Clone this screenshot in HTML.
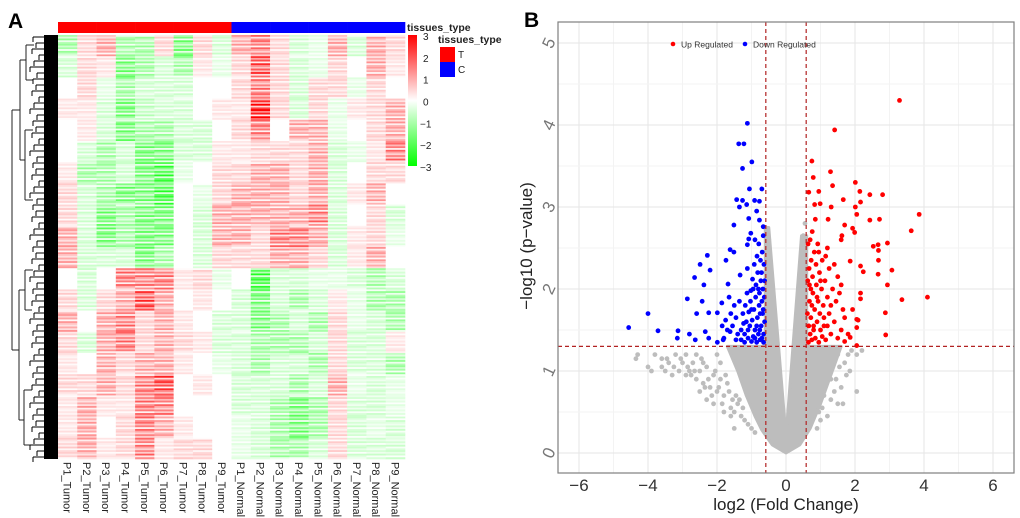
<!DOCTYPE html>
<html><head><meta charset="utf-8">
<style>
html,body{margin:0;padding:0;background:#fff;}
svg{display:block;font-family:"Liberation Sans",Arial,sans-serif;}
</style></head>
<body>
<svg id="fig" width="1020" height="518" viewBox="0 0 1020 518">
  <text x="8" y="28" font-size="21" font-weight="bold">A</text>
  <text x="524" y="27" font-size="21" font-weight="bold">B</text>
  <g id="heat"></g>
  <g id="dendro"></g>
  <g id="volc"></g>
</svg>
<script>
// ---------- Heatmap data ----------
const sampleLabels = ["P1_Tumor","P2_Tumor","P3_Tumor","P4_Tumor","P5_Tumor","P6_Tumor","P7_Tumor","P8_Tumor","P9_Tumor",
  "P1_Normal","P2_Normal","P3_Normal","P4_Normal","P5_Normal","P6_Normal","P7_Normal","P8_Normal","P9_Normal"];
const sampleGroups = ["T","T","T","T","T","T","T","T","T","C","C","C","C","C","C","C","C","C"];
const legendTicks = [3,2,1,0,-1,-2,-3];
const bandValues = [
 [-1,0.5,1,-1,-1,0.5,-1.5,0.5,-0.5, 1,1.5,0.5,-0.5,-0.3,1,-0.5,1,0.5],
 [-0.5,0.5,0.3,-1.5,-1,-0.5,-1,0.3,-0.3, 0.5,2,0.5,-0.5,-0.3,0.5,0,1,0.3],
 [0,0.5,-0.3,-1,-0.5,-0.5,-0.5,0,0, 0.5,1.5,0.5,-0.5,0.5,0.5,-0.3,0.5,0],
 [0.3,0.3,-0.5,-1.5,-0.7,-0.5,-0.5,0,0.3, 0.3,2.5,0.5,-0.5,0.5,-0.3,0.3,0.5,1],
 [0,0.3,-0.5,-1.5,-1,-1,-0.5,-0.5,0, 0.5,1.5,0,1,1,-0.3,0,0.5,1],
 [0,-0.5,-1,-0.5,-1.5,-1.5,-0.5,-0.5,0.3, 0.3,0.5,0.5,0.5,1,-0.5,-0.3,0.3,1.5],
 [0.3,-1,-1,-0.5,-1.5,-2,-0.3,0,0.5, 0.5,1,1,0.5,1,-0.5,0,0.5,0.5],
 [0.5,-0.5,-1,-1.5,-1.5,-2,0,-0.3,0.5, 1,1,1,0.5,1,-0.5,0.3,1,0],
 [0.5,-0.5,-1.5,-1,-1.5,-1.5,0,-0.5,1, 1,1,1,1,1.5,-0.5,0,0.5,-0.5],
 [1,-0.5,-1.5,-1,-1.5,-1.5,0,-0.5,1, 1,0.5,1.5,1.5,1,-0.5,0.3,0.5,-0.3],
 [1,-0.5,-0.5,-0.5,-1.5,-1,0,-0.5,0.5, 0.5,0.5,1,1,0.5,-0.5,0.3,1,0],
 [0,-0.5,0,1.5,1.5,1.5,0.3,0.5,-0.3, 0,-2,-0.5,-0.5,-0.3,-0.3,-0.5,-1,-0.5],
 [0.5,-0.5,0.5,1,2,1,0,0.3,0, -0.5,-1.5,-0.5,-1,-0.5,0.3,-0.3,-1,-1],
 [1,0,1,1.5,0.5,1,0.3,0,-0.5, -0.5,-1.5,-1,-0.5,-1,0.5,-0.3,-0.5,-1],
 [0.5,-0.5,1,1.5,0.5,1,0.5,0.3,-0.5, -0.5,-1,-1,-1,-0.5,0.5,-0.5,-0.5,0.3],
 [0.3,0,1,0.5,1,1,0.3,0,-0.3, -0.5,-1,-0.5,-0.5,-1,0.5,-0.5,-0.5,-1],
 [0.5,0.5,1,0.5,1.5,2,0,0.3,0, -0.5,-0.5,-0.5,-1,-0.5,1,-0.3,-0.5,-0.3],
 [0.3,1,0.3,0.3,1.5,1.5,0,0,0, -0.5,-0.5,-1,-1.5,-1,0.5,-0.5,-0.5,-0.3],
 [0.3,1,0,0.5,1.5,1,0.3,0,0, -0.3,-0.5,-1,-1.5,-1,0.5,-0.5,-0.3,-0.5],
 [0.5,1,0.3,0.5,1.5,0.3,0.5,0.5,0, -0.3,-0.5,-1,-1,-0.5,0.5,-0.5,-0.5,-0.5]
];

// ---------- Volcano data (log2FC, -log10 p) ----------
const upX = [3.29,1.41,0.75,1.29,0.79,2.01,1.35,0.66,0.95,2.14,2.43,2.80,1.66,2.16,0.83,0.99,1.31,2.01,3.86,2.05,2.43,2.71,1.22,1.70,1.93,3.63,1.99,1.62,2.94,2.53,2.67,2.68,2.68,2.16,3.07,2.24,2.67,1.86,2.94,2.16,2.16,4.10,3.36,2.88,2.89,2.05,2.09,2.05,1.93,1.86,2.05,
 0.65,0.7,0.75,0.8,0.85,0.9,0.95,1.0,1.05,1.1,1.15,1.2,1.3,1.4,1.5,1.6,1.7,1.8,0.62,0.68,0.72,0.78,0.83,0.88,0.93,0.98,1.03,1.08,1.13,1.2,1.25,1.35,1.45,1.55,1.65,0.63,0.67,0.73,0.77,0.82,0.87,0.92,0.97,1.05,1.15,1.25,1.4,1.5,1.6,0.64,0.7,0.76,0.85,0.68,0.75,0.8,0.9,1.0,1.1,1.3,1.6,1.7,1.2,0.95,0.66,0.72];
const upY = [4.30,3.94,3.56,3.43,3.36,3.30,3.26,3.18,3.19,3.19,3.15,3.15,3.09,3.06,3.03,3.04,3.00,3.00,2.91,2.91,2.84,2.85,2.85,2.78,2.74,2.71,2.69,2.65,2.56,2.52,2.54,2.47,2.35,2.28,2.23,2.21,2.18,2.34,2.05,1.95,1.88,1.90,1.87,1.71,1.44,1.63,1.62,1.53,1.75,1.41,1.31,
 1.35,1.45,1.38,1.55,1.4,1.6,1.35,1.5,1.42,1.65,1.38,1.55,1.45,1.6,1.4,1.5,1.36,1.45,1.7,1.85,1.65,1.95,1.75,2.05,1.85,1.7,2.0,1.8,2.1,1.9,1.7,2.0,1.85,1.95,1.75,2.1,2.25,2.35,2.15,2.45,2.3,2.55,2.2,2.35,2.4,2.25,2.3,2.15,2.6,2.55,2.6,2.7,2.85,2.05,1.8,1.5,1.9,2.1,1.55,1.8,2.05,1.65,2.5,2.45,1.55,2.0];
const downX = [-1.12,-1.37,-1.22,-0.99,-1.26,-1.06,-0.70,-1.43,-1.26,-1.14,-1.35,-0.91,-0.77,-0.85,-1.08,-1.51,-0.77,-0.66,-1.02,-1.08,-1.12,-1.62,-1.51,-2.28,-2.49,-2.20,-1.74,-2.65,-2.38,-1.68,-1.33,-2.86,-2.43,-1.86,-4.00,-4.56,-3.71,-3.13,-3.15,-2.80,-2.63,-2.24,-2.59,-2.34,-2.24,-1.99,-1.99,-1.62,-1.82,
 -0.65,-0.7,-0.75,-0.8,-0.85,-0.9,-0.95,-1.0,-1.05,-1.1,-1.15,-1.2,-1.25,-1.3,-0.62,-0.68,-0.72,-0.78,-0.83,-0.88,-0.93,-0.98,-1.03,-1.08,-1.13,-1.18,-1.23,-0.63,-0.67,-0.73,-0.77,-0.82,-0.87,-0.92,-0.97,-1.02,-1.12,-0.64,-0.69,-0.74,-0.79,-0.84,-0.9,-0.66,-0.71,-0.76,-1.4,-1.45,-1.5,-1.55,-1.6,-1.65,-1.45,-1.35,-1.7,-1.75,-1.8,-1.85,-0.95,-0.85,-0.75,-0.65,-1.0,-1.1,-0.7,-0.8,-0.9,-1.2,-1.3,-0.62,-0.66];
const downY = [4.02,3.77,3.77,3.55,3.47,3.22,3.22,3.09,3.08,3.03,3.00,3.08,3.07,2.95,2.86,2.78,2.84,2.76,2.68,2.61,2.54,2.48,2.45,2.41,2.30,2.23,2.35,2.14,2.05,2.06,2.17,1.88,1.85,1.83,1.70,1.53,1.49,1.49,1.40,1.45,1.38,1.40,1.70,1.48,1.71,1.71,1.35,1.48,1.38,
 1.35,1.4,1.38,1.45,1.35,1.5,1.42,1.36,1.55,1.4,1.6,1.45,1.7,1.5,1.6,1.7,1.55,1.8,1.65,1.9,1.75,1.62,1.85,1.72,1.95,1.8,1.58,1.9,2.0,2.1,1.95,2.2,2.05,2.3,2.12,1.98,2.25,2.3,2.45,2.35,2.55,2.4,2.6,2.65,2.2,1.5,1.45,1.65,1.8,1.55,1.7,1.9,1.38,1.85,1.5,1.62,1.4,1.55,2.0,1.55,1.7,1.45,1.75,1.5,1.85,2.0,1.4,1.35,1.38,2.1,1.75];
const nsX = [-4.3,-4.35,-4.0,-3.9,-3.6,-3.5,-3.4,-3.3,-3.1,-3.0,-2.9,-2.8,-2.7,-2.6,-2.5,-2.4,-2.3,-2.2,-2.1,-2.0,-1.9,-1.8,-1.7,-1.6,-1.5,-1.4,-1.3,-2.5,-2.3,-1.8,-1.6,-1.2,-3.8,-3.2,-2.6,-2.0,-1.5,-2.1,-2.9,-3.6,
 -3.45,-3.25,-3.05,-2.85,-2.65,-2.45,-2.25,-2.05,-1.95,-1.75,-1.65,-1.45,-1.35,-2.75,-2.35,-2.15,-1.85,-1.55,-1.25,-1.1,-1.0,-0.9,-1.9,-2.4,
 1.0,1.2,1.3,1.4,1.5,1.6,1.7,1.8,1.9,2.05,2.05,1.65,1.2,1.0,1.5,1.1,0.9,1.4,0.55,0.5,-0.6,-0.5,1.25,1.35,1.45,1.55,1.75,1.15,1.05,1.85,2.2,0.95,1.3];
const nsY = [1.2,1.15,1.05,1.0,1.05,1.0,1.1,0.95,1.0,1.1,0.95,1.0,1.1,0.9,1.0,0.85,1.05,0.8,0.95,0.75,0.9,0.7,0.85,0.55,0.5,0.6,0.45,0.75,0.65,0.5,0.45,0.4,1.2,1.2,1.2,1.2,0.3,0.6,1.2,1.15,
 1.15,1.05,1.15,1.05,1.0,1.15,0.9,1.0,0.8,0.95,0.75,0.7,0.65,0.95,0.8,0.7,0.6,0.65,0.55,0.35,0.3,0.25,1.1,1.1,
 1.25,1.1,0.9,0.75,0.6,0.8,1.1,1.2,1.25,1.2,0.75,0.6,0.45,0.4,1.2,0.7,0.3,1.15,2.8,2.65,2.75,2.6,1.0,1.2,0.9,1.05,0.95,0.85,0.55,1.0,1.25,0.5,0.65];
// envelope of the dense non-significant cloud
const cloudOuterX = [-1.7,-1.4,-1.15,-0.9,-0.7,-0.4,0,0.4,0.7,1.0,1.3,1.6,0.6,0.6,0.45,0.0,-0.5,-0.6,-0.6];
const cloudOuterY = [1.3,1.0,0.7,0.45,0.28,0.1,0.0,0.1,0.3,0.6,0.95,1.3,1.3,2.65,2.65,0.2,2.75,2.75,1.3];
const xTicks = [-6,-4,-2,0,2,4,6];
const yTicks = [0,1,2,3,4,5];
const fcCut = 0.585, pCut = 1.3;

const NS = "http://www.w3.org/2000/svg";
function mk(tag, attrs, parent){const e=document.createElementNS(NS,tag);for(const k in attrs)e.setAttribute(k,attrs[k]);parent.appendChild(e);return e;}

// ---------- Heatmap ----------
const heat = document.getElementById('heat');
const hx0=58, hx1=405, hy0=35, hy1=459;
const colW=(hx1-hx0)/sampleLabels.length;
const bandH=(hy1-hy0)/bandValues.length;
const stripe=[1,0.4,1.3,0.2,0.9,1.2,0.55,1.05,0.1,1.25,0.7,0.35];
function colorFor(v){const t=Math.max(-1,Math.min(1,v/3));const w=Math.round(255*(1-Math.abs(t)));return t>=0?`rgb(255,${w},${w})`:`rgb(${w},255,${w})`;}
const subH=bandH/stripe.length;
bandValues.forEach((row,bi)=>{
  row.forEach((v,ci)=>{
    stripe.forEach((f0,si)=>{
      const f=stripe[(si+ci*5+bi*3)%stripe.length];
      const r=mk('rect',{x:hx0+ci*colW,y:hy0+bi*bandH+si*subH,width:colW+0.3,height:subH+0.3,fill:colorFor(v*f)},heat);
      
      
    });
  });
});
sampleGroups.forEach((g,ci)=>{
  const r=mk('rect',{x:hx0+ci*colW,y:22,width:colW+0.3,height:11,fill:g==="T"?"#ff0000":"#0000ff"},heat);
  
  
});
sampleLabels.forEach((s,ci)=>{
  const cx=hx0+ci*colW+colW/2-4;
  const t=mk('text',{x:0,y:0,'font-size':11,fill:'#222',transform:`translate(${cx},462) rotate(90)`},heat);
  t.textContent=s;
  
  
});
const grad=mk('defs',{},heat);
const lg=mk('linearGradient',{id:'gk',x1:0,y1:0,x2:0,y2:1},grad);
[[0,'#ff0000'],[0.5,'#ffffff'],[1,'#00ff00']].forEach(s=>mk('stop',{offset:s[0],'stop-color':s[1]},lg));
const key=mk('rect',{x:408,y:35,width:9,height:131,fill:'url(#gk)'},heat);


legendTicks.forEach(v=>{
  const y=35+(3-v)/6*131+4;
  const t=mk('text',{x:v<0?420:423,y:y+1,'font-size':10,fill:'#222'},heat);
  t.textContent=v<0?'\u2212'+(-v):String(v);
  
  
});
const ann=mk('text',{x:407,y:31,'font-size':10.5,'font-weight':'bold',fill:'#222'},heat);ann.textContent='tissues_type';

const lt=mk('text',{x:438,y:43,'font-size':10.5,'font-weight':'bold',fill:'#222'},heat);lt.textContent='tissues_type';

[['T','#ff0000',47],['C','#0000ff',62]].forEach(([n,c,y])=>{
  const r=mk('rect',{x:440,y:y,width:15,height:15,fill:c},heat);
  
  const t=mk('text',{x:458,y:y+11,'font-size':10,fill:'#222'},heat);t.textContent=n;
  
});

// ---------- Dendrogram (styling) ----------
const dg=document.getElementById('dendro');
let d=`M12,110 V350 M12,110 H20 M12,350 H19 M20,60 V160 M19,290 V420 M20,60 H26 M20,160 H25 M19,290 H25 M19,420 H24`;
d+=` M26,45 V80 M25,130 V200 M25,270 V310 M24,390 V445 M26,45 H34 M26,80 H33 M25,130 H33 M25,200 H33 M25,270 H33 M25,310 H32 M24,390 H32 M24,445 H32`;
const pd=mk('path',{d:d,stroke:'#222','stroke-width':1,fill:'none'},dg);

const db=mk('rect',{x:44,y:35,width:14,height:424,fill:'#000'},dg);

let dd='';
for(let y=37;y<459;y+=6){const w=[8,12,5,10,14,7,11][Math.floor(y/6)%7];dd+=`M${44-w},${y} H44 M${44-w},${y} V${y+5} `;}
const dm=mk('path',{d:dd,stroke:'#000','stroke-width':1,fill:'none'},dg);


// ---------- Volcano ----------
const vg=document.getElementById('volc');
const px0=558, px1=1014, py0=22, py1=473;
const sx=v=>786+v*34.5;
const sy=v=>453-v*82;
for(let g=-6;g<=6;g+=1){const l=mk('line',{x1:sx(g),x2:sx(g),y1:py0,y2:py1,stroke:g%2===0?'#e6e6e6':'#f3f3f3','stroke-width':1},vg);
  }
for(let g=0;g<=5;g+=0.5){const l=mk('line',{x1:px0,x2:px1,y1:sy(g),y2:sy(g),stroke:g%1===0?'#e6e6e6':'#f3f3f3','stroke-width':1},vg);
  }
let cp='M'+cloudOuterX.map((x,i)=>sx(x)+','+sy(cloudOuterY[i])).join(' L')+' Z';
const cl=mk('path',{d:cp,fill:'#bdbdbd',stroke:'#bdbdbd','stroke-width':3,'stroke-linejoin':'round'},vg);

function pts(xs,ys,col,name){xs.forEach((x,i)=>{const c=mk('circle',{cx:sx(x),cy:sy(ys[i]),r:2.4,fill:col},vg);
  });}
pts(nsX,nsY,'#bdbdbd','nonsignificant-point');
pts(downX,downY,'#0000ff','down-regulated-point');
pts(upX,upY,'#ff0000','up-regulated-point');
[-fcCut,fcCut].forEach(v=>{const l=mk('line',{x1:sx(v),x2:sx(v),y1:py0,y2:py1,stroke:'#b22222','stroke-width':1.2,'stroke-dasharray':'4,3'},vg);
  });
const hl=mk('line',{x1:px0,x2:px1,y1:sy(pCut),y2:sy(pCut),stroke:'#b22222','stroke-width':1.2,'stroke-dasharray':'4,3'},vg);

const fr=mk('rect',{x:px0,y:py0,width:px1-px0,height:py1-py0,fill:'none',stroke:'#7f7f7f','stroke-width':1.2},vg);

xTicks.forEach(v=>{const t=mk('text',{x:sx(v),y:491,'font-size':17,'text-anchor':'middle',fill:'#333'},vg);
  t.textContent=v<0?'\u2212'+(-v):String(v);});
yTicks.forEach(v=>{const t=mk('text',{x:0,y:0,'font-size':17,'text-anchor':'middle',fill:'#777',transform:`translate(549,${sy(v)}) rotate(-65)`,'dominant-baseline':'central'},vg);
  t.textContent=String(v);});
const xt=mk('text',{x:786,y:510,'font-size':17,'text-anchor':'middle',fill:'#222'},vg);xt.textContent='log2 (Fold Change)';

const yt=mk('text',{x:0,y:0,'font-size':17,'text-anchor':'middle',fill:'#222',transform:'translate(532,246) rotate(-90)'},vg);yt.textContent='\u2212log10 (p\u2212value)';

[['Up Regulated','#ff0000',673],['Down Regulated','#0000ff',745]].forEach(([n,c,x])=>{
  const dot=mk('circle',{cx:x,cy:44,r:2.3,fill:c},vg);
  const t=mk('text',{x:x+8,y:47.5,'font-size':8.5,fill:'#333'},vg);t.textContent=n;
  
});
</script>
</body></html>
